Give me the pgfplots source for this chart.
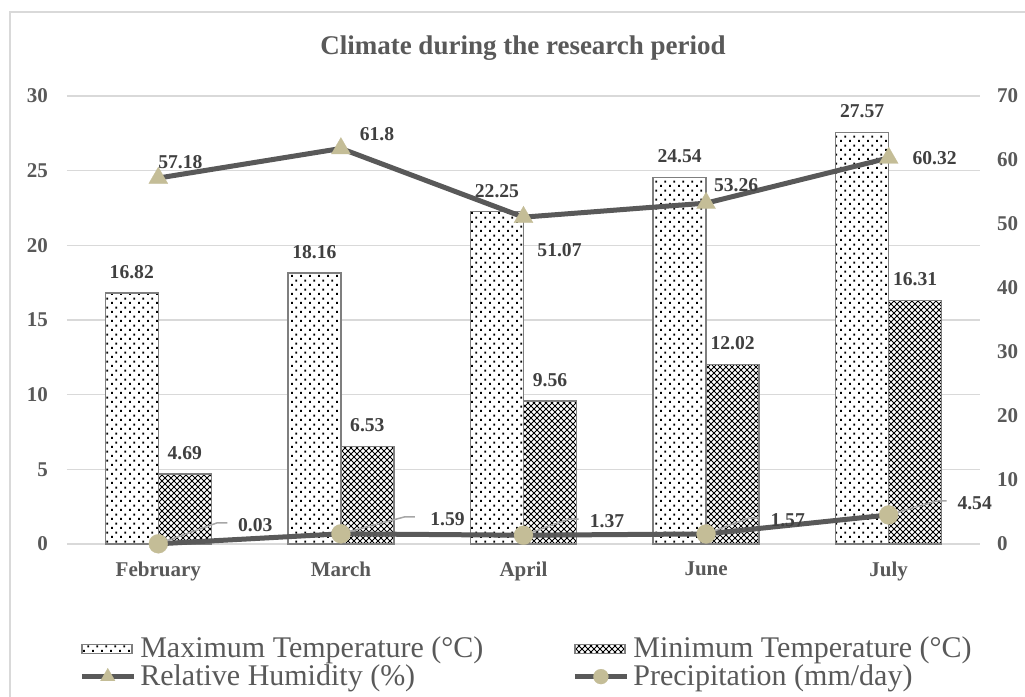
\documentclass[border=0pt]{standalone}
\usepackage{pgfplots}
\pgfplotsset{compat=1.18}
\usetikzlibrary{patterns}
\usepackage{fontspec}
\setmainfont{Liberation Serif}
\definecolor{gridgray}{HTML}{D9D9D9}
\definecolor{labelgray}{HTML}{595959}
\definecolor{datagray}{HTML}{404040}
\definecolor{linegray}{HTML}{595959}
\definecolor{tanc}{HTML}{C4BD97}
\definecolor{edgegray}{HTML}{7F7F7F}
\definecolor{leadergray}{HTML}{A6A6A6}

\pgfdeclarepatternformonly{sdots}{\pgfpointorigin}{\pgfpoint{4.6pt}{4.4pt}}{\pgfpoint{4.6pt}{4.4pt}}{%
  \pgfpathrectangle{\pgfpoint{0.6pt}{0.6pt}}{\pgfpoint{1pt}{1pt}}%
  \pgfpathrectangle{\pgfpoint{2.9pt}{2.8pt}}{\pgfpoint{1pt}{1pt}}%
  \pgfusepath{fill}%
}
\pgfdeclarepatternformonly{dxhatch}{\pgfpoint{-0.2pt}{-0.2pt}}{\pgfpoint{3.2pt}{3.2pt}}{\pgfpoint{3pt}{3pt}}{%
  \pgfsetlinewidth{0.4pt}%
  \pgfpathmoveto{\pgfpoint{0pt}{0pt}}\pgfpathlineto{\pgfpoint{3pt}{3pt}}%
  \pgfpathmoveto{\pgfpoint{0pt}{3pt}}\pgfpathlineto{\pgfpoint{3pt}{0pt}}%
  \pgfusepath{stroke}%
}

\tikzset{dlab/.style={font=\bfseries\fontsize{9.8}{11}\selectfont, text=datagray}}
\pgfplotsset{
  base/.style={
    at={(33.5pt,76.5pt)}, anchor=south west, scale only axis,
    width=456.5pt, height=224pt,
    xmin=-0.5, xmax=4.5, clip=false,
    major tick length=0pt,
    /pgf/number format/assume math mode=true,
    tick label style={font=\bfseries\fontsize{10.5}{12}\selectfont, text=labelgray},
  },
  mylinelegend/.style={legend image code/.code={\draw[mark repeat=2,mark phase=2,##1] plot coordinates {(0pt,0pt) (13pt,0pt) (26pt,0pt)};}},
  mybarlegend/.style={legend image code/.code={\draw[##1] (0pt,-2.25pt) rectangle (25pt,2.25pt);}},
}
\begin{document}
\begin{tikzpicture}
\useasboundingbox (0pt,0pt) rectangle (512.5pt,348.5pt);
\fill[white] (0pt,0pt) rectangle (512.5pt,348.5pt);
\draw[gridgray, line width=0.75pt] (5pt,0pt) -- (5pt,342.5pt) -- (512.5pt,342.5pt);
\node[font=\bfseries\fontsize{13.5}{16}\selectfont, text=labelgray, anchor=base] at (261.5pt,321pt) {Climate during the research period};

\begin{axis}[base, ymin=0, ymax=30, ytick={0,5,...,30},
  xtick={0,1,2,3,4}, xticklabels={February,March,April,June,July},
  axis line style={draw=none}, ytick pos=left, xtick pos=bottom,
  ymajorgrids, grid style={gridgray, line width=0.75pt},
  yticklabel style={xshift=-6pt},
  xticklabel style={yshift=-5.5pt},
  nodes near coords, point meta=explicit symbolic,
  every node near coord/.append style={dlab, anchor=center, yshift=10.5pt},
  legend columns=2,
  legend cell align=left,
  legend style={at={(axis description cs:0.5043,-0.265)}, anchor=center, draw=none, fill=none,
    font=\fontsize{15}{18}\selectfont, text=labelgray, row sep=-2pt,
    /tikz/every even column/.append style={column sep=42.5pt}},
]
\addplot[ybar, bar width=26.5pt, bar shift=-13.25pt, fill=white, draw=edgegray, line width=0.75pt, postaction={pattern=sdots}, mybarlegend,
  every node near coord/.append style={xshift=-13.25pt}]
  coordinates {(0,16.82)[16.82] (1,18.16)[18.16] (2,22.25)[22.25] (3,24.54)[24.54] (4,27.57)[27.57]};
\addlegendentry{Maximum Temperature (°C)}
\addplot[ybar, bar width=26.5pt, bar shift=13.25pt, fill=white, draw=edgegray, line width=0.75pt, postaction={pattern=dxhatch}, mybarlegend,
  every node near coord/.append style={xshift=13.25pt}]
  coordinates {(0,4.69)[4.69] (1,6.53)[6.53] (2,9.56)[9.56] (3,12.02)[12.02] (4,16.31)[16.31]};
\addlegendentry{Minimum Temperature (°C)}
\addlegendimage{mylinelegend, color=linegray, line width=2.5pt, mark=triangle*, mark size=4.2pt, mark options={solid, fill=tanc, draw=tanc, line width=0.1pt}}
\addlegendentry{Relative Humidity (\%)}
\addlegendimage{mylinelegend, color=linegray, line width=2.5pt, mark=*, mark size=3.75pt, mark options={solid, fill=tanc, draw=tanc, line width=0.1pt}}
\addlegendentry{Precipitation (mm/day)}
\end{axis}

\begin{axis}[base, ymin=0, ymax=70, ytick={0,10,...,70},
  axis x line=none, axis y line*=right, y axis line style={draw=none},
  yticklabel style={xshift=5pt},
]
\addplot[color=linegray, line width=2.5pt, mark=triangle*, mark size=5.5pt, mark options={solid, fill=tanc, draw=tanc, line width=0.1pt}]
  coordinates {(0,57.18) (1,61.8) (2,51.07) (3,53.26) (4,60.32)};
\addplot[color=linegray, line width=2.5pt, mark=*, mark size=4.75pt, mark options={solid, fill=tanc, draw=tanc, line width=0.1pt}]
  coordinates {(0,0.03) (1,1.59) (2,1.37) (3,1.57) (4,4.54)};
% humidity labels
\node[dlab, xshift=11pt, yshift=8pt] at (axis cs:0,57.18) {57.18};
\node[dlab, xshift=18pt, yshift=7.25pt] at (axis cs:1,61.8) {61.8};
\node[dlab, xshift=18pt, yshift=-16.5pt] at (axis cs:2,51.07) {51.07};
\node[dlab, xshift=15pt, yshift=9pt] at (axis cs:3,53.26) {53.26};
\node[dlab, xshift=23pt, yshift=0pt] at (axis cs:4,60.32) {60.32};
% precipitation leaders and labels
\draw[leadergray, line width=0.75pt] (axis cs:0,0.03) -- ++(29.5pt,10.5pt) -- ++(5pt,0pt) node[dlab, anchor=west, xshift=1.7pt, yshift=-1pt] {0.03};
\draw[leadergray, line width=0.75pt] (axis cs:1,1.59) -- ++(32pt,8.5pt) -- ++(5pt,0pt) node[dlab, anchor=west, xshift=4pt, yshift=-1pt] {1.59};
\draw[leadergray, line width=0.75pt] (axis cs:2,1.37) -- ++(22.5pt,8pt) -- ++(5pt,0pt) node[dlab, anchor=west, xshift=2pt, yshift=-1pt] {1.37};
\draw[leadergray, line width=0.75pt] (axis cs:3,1.57) -- ++(21.5pt,8pt) -- ++(5pt,0pt) node[dlab, anchor=west, xshift=2pt, yshift=-1pt] {1.57};
\draw[leadergray, line width=0.75pt] (axis cs:4,4.54) -- ++(24pt,7pt) -- ++(5pt,0pt) node[dlab, anchor=west, xshift=1.7pt, yshift=-1pt] {4.54};
\end{axis}
\end{tikzpicture}
\end{document}
